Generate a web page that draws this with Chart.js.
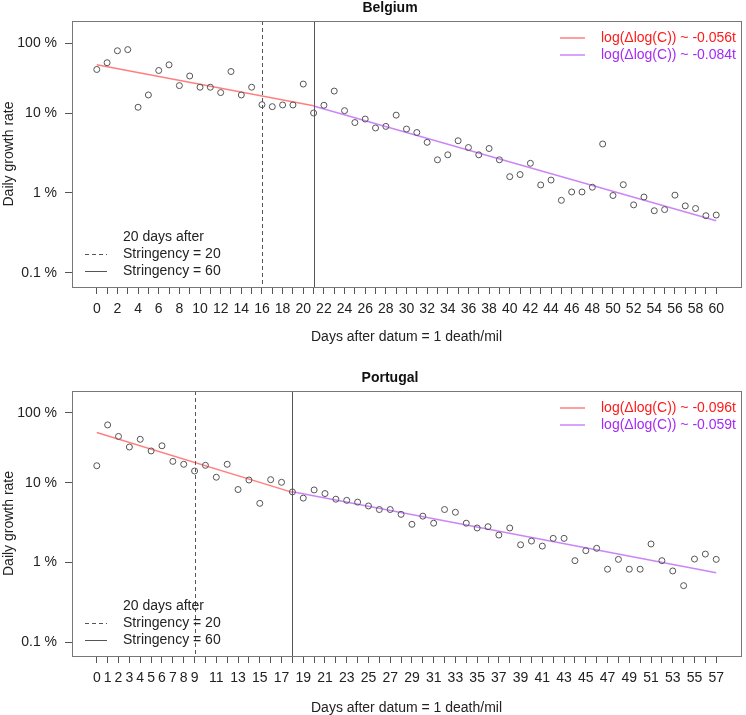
<!DOCTYPE html>
<html>
<head>
<meta charset="utf-8">
<script src="https://cdn.jsdelivr.net/npm/chart.js@4"></script>
<style>
 body{margin:0;background:#fff}
 canvas{display:block}
</style>
</head>
<body>
<canvas id="be" width="746" height="346"></canvas>
<canvas id="pt" width="746" height="369"></canvas>
<script>

// Belgium
const beRate = [0.35,0.425,0.60,0.62,0.118,0.168,0.34,0.40,0.22,0.29,
 0.21,0.21,0.18,0.33,0.168,0.21,0.127,0.12,0.126,0.126,
 0.23,0.10,0.125,0.188,0.107,0.076,0.084,0.065,0.068,0.094,
 0.063,0.057,0.043,0.026,0.030,0.045,0.037,0.030,0.036,0.026,
 0.016,0.017,0.0235,0.0126,0.0145,0.0081,0.0103,0.0103,0.0118,0.041,
 0.0093,0.0127,0.0071,0.0089,0.0060,0.0062,0.0094,0.0069,0.0064,0.0052,0.0053];
const beFitRedX = [0,21];
const beFitRedY = [0.40,0.123];
const beFitPurpleX = [21,60];
const beFitPurpleY = [0.122,0.0045];
const beStringency = [16,21];
const beSlopes = ["-0.056t","-0.084t"];
const beXLabels = [0,2,4,6,8,10,12,14,16,18,20,22,24,26,28,30,32,34,36,38,40,42,44,46,48,50,52,54,56,58,60];

// Portugal
const ptRate = [0.163,0.53,0.38,0.28,0.35,0.25,0.29,0.185,0.17,0.14,
 0.165,0.117,0.17,0.082,0.108,0.055,0.109,0.101,0.0765,0.064,
 0.081,0.073,0.062,0.060,0.057,0.051,0.046,0.046,0.040,0.030,
 0.038,0.031,0.046,0.0425,0.031,0.027,0.028,0.022,0.027,0.0166,
 0.0185,0.016,0.020,0.020,0.0105,0.014,0.015,0.0082,0.0109,0.0082,
 0.0082,0.017,0.0105,0.0078,0.0051,0.011,0.0127,0.0109];
const ptFitRedX = [0,18];
const ptFitRedY = [0.425,0.0755];
const ptFitPurpleX = [18,57];
const ptFitPurpleY = [0.077,0.0074];
const ptStringency = [9,18];
const ptSlopes = ["-0.096t","-0.059t"];
const ptXLabels = [0,1,2,3,4,5,6,7,8,9,11,13,15,17,19,21,23,25,27,29,31,33,35,37,39,41,43,45,47,49,51,53,55,57];

// y tick positions (the top label sits lower than a clean decade)
const yTicks = [0.001,0.01,0.1,0.75];
const yTickLabels = ["0.1 %","1 %","10 %","100 %"];

const FONT = "'Liberation Sans', Arial, sans-serif";
const RED = "#ff1a1a", RED_LINE = "rgba(255,0,0,0.5)";
const PURPLE = "#a52af5", PURPLE_LINE = "rgba(160,32,240,0.55)";

function pts(xs,ys){ return xs.map((x,i)=>({x:x,y:ys[i]})); }

function drawPanel(id,o){

 const n = o.rate.length;
 const xMin = -(n-1)*0.04, xMax = (n-1)*1.04;

 const deco = {
  id:"deco",
  beforeDatasetsDraw(chart){
    const c = chart.ctx, a = chart.chartArea, xs = chart.scales.x;
    c.save();
    c.strokeStyle = "#555";
    c.lineWidth = 1;
    o.stringency.forEach((d,i)=>{
      const px = Math.round(xs.getPixelForValue(d))+0.5;
      c.setLineDash(i==0 ? [4,3] : []);
      c.beginPath(); c.moveTo(px,a.top); c.lineTo(px,a.bottom); c.stroke();
    });
    c.restore();
  },
  afterDraw(chart){
    const c = chart.ctx, a = chart.chartArea;
    c.save();
    c.strokeStyle = "#777";
    c.lineWidth = 1;
    c.strokeRect(a.left+0.5,a.top+0.5,a.right-a.left,a.bottom-a.top);

    // title
    c.fillStyle = "#111";
    c.font = "bold 14px "+FONT;
    c.textAlign = "center";
    c.textBaseline = "middle";
    c.fillText(o.title,390,a.top-13);

    // slope legend
    c.font = "14px "+FONT;
    c.textAlign = "right";
    [[RED_LINE,RED],[PURPLE_LINE,PURPLE]].forEach((col,i)=>{
      const y = a.top+17+i*17;
      c.strokeStyle = col[0]; c.lineWidth = 1.5;
      c.beginPath(); c.moveTo(a.right-181,y); c.lineTo(a.right-156,y); c.stroke();
      c.fillStyle = col[1];
      c.fillText("log(\u0394log(C)) ~ "+o.slopes[i],a.right-5,y);
    });

    // stringency legend
    c.fillStyle = "#222";
    c.textAlign = "left";
    c.strokeStyle = "#555"; c.lineWidth = 1;
    c.fillText("20 days after",a.left+51,a.bottom-50);
    ["Stringency = 20","Stringency = 60"].forEach((t,i)=>{
      const y = a.bottom-33+i*17;
      c.setLineDash(i==0 ? [4,3] : []);
      c.beginPath(); c.moveTo(a.left+13,y+0.5); c.lineTo(a.left+35,y+0.5); c.stroke();
      c.fillText(t,a.left+51,y);
    });
    c.restore();
  }
 };

 new Chart(document.getElementById(id),{
  type:"scatter",
  data:{
   datasets:[
    {
     data:o.rate.map((v,i)=>({x:i,y:v})),
     pointStyle:"circle",
     pointRadius:3,
     borderColor:"#555",
     backgroundColor:"rgba(0,0,0,0)",
     borderWidth:1
    },
    {
     type:"line",
     data:pts(o.redX,o.redY),
     borderColor:RED_LINE,
     borderWidth:1.5,
     pointRadius:0
    },
    {
     type:"line",
     data:pts(o.purpleX,o.purpleY),
     borderColor:PURPLE_LINE,
     borderWidth:1.5,
     pointRadius:0
    }
   ]
  },
  options:{
   responsive:false,
   animation:false,
   devicePixelRatio:1,
   layout:{padding:{top:o.padTop,left:0,right:3,bottom:0}},
   plugins:{legend:{display:false},tooltip:{enabled:false}},
   scales:{
    x:{
     type:"linear",
     min:xMin,
     max:xMax,
     afterBuildTicks:s=>{
       s.ticks = o.rate.map((v,i)=>({value:i}));
     },
     afterFit:s=>{ s.height = o.xHeight; },
     ticks:{
       autoSkip:false,
       maxRotation:0,
       padding:7,
       color:"#222",
       font:{family:FONT,size:14},
       callback:v=>o.xLabels.includes(v) ? String(v) : ""
     },
     grid:{drawOnChartArea:false,tickLength:7,color:"#555"},
     border:{display:false},
     title:{
       display:true,
       text:"Days after datum = 1 death/mil",
       color:"#222",
       font:{family:FONT,size:14},
       padding:{top:0,bottom:o.titlePad}
     }
    },
    y:{
     type:"logarithmic",
     min:0.000668,
     max:1.413,
     afterBuildTicks:s=>{
       s.ticks = yTicks.map(v=>({value:v}));
     },
     afterFit:s=>{ s.width = 72; },
     ticks:{
       padding:8,
       color:"#222",
       font:{family:FONT,size:14},
       callback:v=>yTickLabels[yTicks.indexOf(v)]
     },
     grid:{drawOnChartArea:false,tickLength:7,color:"#555"},
     border:{display:false},
     title:{
       display:true,
       text:"Daily growth rate",
       color:"#222",
       font:{family:FONT,size:14},
       padding:{top:0.5,bottom:0}
     }
    }
   }
  },
  plugins:[deco]
 });
}

drawPanel("be",{
 title:"Belgium", rate:beRate,
 redX:beFitRedX, redY:beFitRedY, purpleX:beFitPurpleX, purpleY:beFitPurpleY,
 stringency:beStringency, slopes:beSlopes, xLabels:beXLabels,
 padTop:21, xHeight:59, titlePad:0.6
});

drawPanel("pt",{
 title:"Portugal", rate:ptRate,
 redX:ptFitRedX, redY:ptFitRedY, purpleX:ptFitPurpleX, purpleY:ptFitPurpleY,
 stringency:ptStringency, slopes:ptSlopes, xLabels:ptXLabels,
 padTop:45, xHeight:59, titlePad:-1.5
});

</script>
</body>
</html>
